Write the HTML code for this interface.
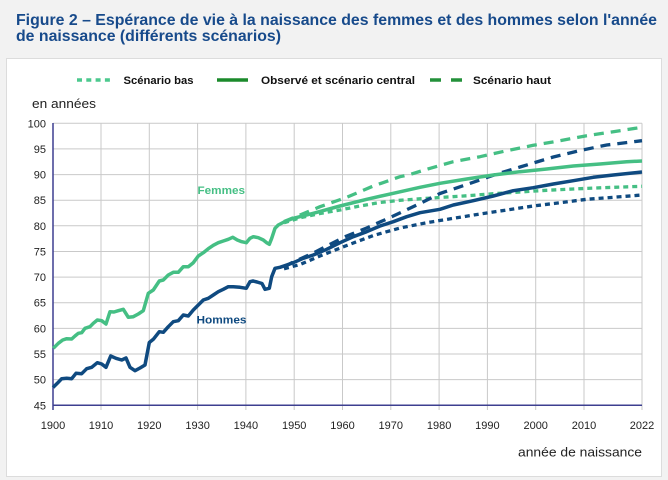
<!DOCTYPE html>
<html><head><meta charset="utf-8"><style>
html,body{margin:0;padding:0;background:#f2f2f2;width:668px;height:480px;overflow:hidden}
svg{display:block}
text{font-family:"Liberation Sans",sans-serif}
</style></head><body>
<svg width="668" height="480" viewBox="0 0 668 480" xmlns="http://www.w3.org/2000/svg">
<rect x="0" y="0" width="668" height="480" fill="#f2f2f2"/>
<text x="16" y="25" font-size="16" font-weight="bold" fill="#174a8b" textLength="641" lengthAdjust="spacingAndGlyphs">Figure 2 – Espérance de vie à la naissance des femmes et des hommes selon l'année</text>
<text x="16" y="41" font-size="16" font-weight="bold" fill="#174a8b" textLength="265" lengthAdjust="spacingAndGlyphs">de naissance (différents scénarios)</text>
<rect x="6.5" y="58.5" width="655" height="418" fill="#ffffff" stroke="#dcdcdc" stroke-width="1"/>
<!-- legend -->
<line x1="77" y1="80" x2="113" y2="80" stroke="#4cc98e" stroke-width="3.5" stroke-dasharray="5 4.3"/>
<text x="123.5" y="84" font-size="11" font-weight="bold" fill="#111" textLength="70" lengthAdjust="spacingAndGlyphs">Scénario bas</text>
<line x1="217" y1="80" x2="248" y2="80" stroke="#1b8a2b" stroke-width="3.5"/>
<text x="261" y="84" font-size="11" font-weight="bold" fill="#111" textLength="154" lengthAdjust="spacingAndGlyphs">Observé et scénario central</text>
<line x1="430" y1="80" x2="462" y2="80" stroke="#23913a" stroke-width="3.5" stroke-dasharray="11 10"/>
<text x="473" y="84" font-size="11" font-weight="bold" fill="#111" textLength="78" lengthAdjust="spacingAndGlyphs">Scénario haut</text>
<text x="32" y="108" font-size="13" fill="#222" textLength="64" lengthAdjust="spacingAndGlyphs">en années</text>
<!-- grid -->
<g stroke="#c9c9c9" stroke-width="1">
<line x1="53" y1="123.3" x2="642" y2="123.3"/>
<line x1="53" y1="148.9" x2="642" y2="148.9"/>
<line x1="53" y1="174.6" x2="642" y2="174.6"/>
<line x1="53" y1="200.2" x2="642" y2="200.2"/>
<line x1="53" y1="225.8" x2="642" y2="225.8"/>
<line x1="53" y1="251.5" x2="642" y2="251.5"/>
<line x1="53" y1="277.1" x2="642" y2="277.1"/>
<line x1="53" y1="302.7" x2="642" y2="302.7"/>
<line x1="53" y1="328.4" x2="642" y2="328.4"/>
<line x1="53" y1="354" x2="642" y2="354"/>
<line x1="53" y1="379.6" x2="642" y2="379.6"/>
<line x1="101" y1="123.3" x2="101" y2="410"/>
<line x1="149.3" y1="123.3" x2="149.3" y2="410"/>
<line x1="197.6" y1="123.3" x2="197.6" y2="410"/>
<line x1="245.9" y1="123.3" x2="245.9" y2="410"/>
<line x1="294.2" y1="123.3" x2="294.2" y2="410"/>
<line x1="342.5" y1="123.3" x2="342.5" y2="410"/>
<line x1="390.8" y1="123.3" x2="390.8" y2="410"/>
<line x1="439.1" y1="123.3" x2="439.1" y2="410"/>
<line x1="487.4" y1="123.3" x2="487.4" y2="410"/>
<line x1="535.7" y1="123.3" x2="535.7" y2="410"/>
<line x1="584" y1="123.3" x2="584" y2="410"/>
<line x1="642" y1="123.3" x2="642" y2="410"/>
</g>
<!-- axes -->
<line x1="53" y1="123" x2="53" y2="410" stroke="#3d3f90" stroke-width="1.5"/>
<line x1="53" y1="405.3" x2="642" y2="405.3" stroke="#3d3f90" stroke-width="1.5"/>
<!-- y labels -->
<g font-size="11" fill="#222" text-anchor="end">
<text x="46" y="127.3">100</text>
<text x="46" y="152.9">95</text>
<text x="46" y="178.6">90</text>
<text x="46" y="204.2">85</text>
<text x="46" y="229.8">80</text>
<text x="46" y="255.5">75</text>
<text x="46" y="281.1">70</text>
<text x="46" y="306.7">65</text>
<text x="46" y="332.4">60</text>
<text x="46" y="358">55</text>
<text x="46" y="383.6">50</text>
<text x="46" y="409.3">45</text>
</g>
<!-- x labels -->
<g font-size="11" fill="#222" text-anchor="middle">
<text x="53" y="429">1900</text>
<text x="101" y="429">1910</text>
<text x="149.3" y="429">1920</text>
<text x="197.6" y="429">1930</text>
<text x="245.9" y="429">1940</text>
<text x="294.2" y="429">1950</text>
<text x="342.5" y="429">1960</text>
<text x="390.8" y="429">1970</text>
<text x="439.1" y="429">1980</text>
<text x="487.4" y="429">1990</text>
<text x="535.7" y="429">2000</text>
<text x="584" y="429">2010</text>
<text x="642" y="429">2022</text>
</g>
<text x="642" y="456.5" font-size="13" fill="#222" text-anchor="end" textLength="124" lengthAdjust="spacingAndGlyphs">année de naissance</text>
<!-- series -->
<g fill="none" stroke-linejoin="round">
<!-- Femmes scenarios -->
<polyline stroke="#45bf84" stroke-width="3.3" stroke-dasharray="10 7" points="284,221.5 300,215 320,206.7 346.7,197.3 373.3,186 400,176.7 410,174.5 426.7,169.3 453.3,161.7 480,156.7 506.7,150.7 533.3,145.3 560,140.7 586.7,135.7 613.3,131.7 642,127.3"/>
<polyline stroke="#45bf84" stroke-width="3.3" stroke-dasharray="5 4" points="284,222.8 300,217.8 320,213.5 340,210 360,206 380,202.5 400,200.3 420,198.8 440,197.5 466.7,195.8 493.3,193.7 520,192 546.7,190.3 573.3,189 600,187.8 642,186.3"/>
<!-- Hommes scenarios -->
<polyline stroke="#0f4a80" stroke-width="3.3" stroke-dasharray="10 7" points="284,267 293.3,262 313.3,253 326.7,246 346.7,236 366.7,228 393.3,216 420,203.5 440,193.5 466.7,184.5 500,173 520,167 533.3,163 553.3,157 580,150.5 606.7,145 642,140.7"/>
<polyline stroke="#0f4a80" stroke-width="3.3" stroke-dasharray="5 4" points="284,268.8 300,264.5 320,256 346.7,245.5 373.3,235.5 400,228 426.7,222.7 453.3,218.3 480,214 506.7,210 533.3,206 560,202.7 586.7,199.3 613.3,197.3 642,195"/>
<!-- Femmes observed + central -->
<polyline stroke="#45bf84" stroke-width="3.5" points="53.3,348.3 58.3,343.3 62.7,340 66.7,338.7 71.7,339 75,336 78.3,333.3 81.7,332.7 85,328.3 90,326.7 93.3,323.3 97.3,320 101.7,320.7 106,324 110,311.7 114,312 118.3,310.7 123.3,309.3 128.3,317.3 133.3,316.7 138.3,314 143.3,310.7 148.3,293.3 153.3,290 159.3,281 163.3,280 168.3,275 173.3,272.3 178.3,272.3 183.3,266.7 188.3,266.7 193.3,262.7 198.3,256 203.3,252.7 208.3,248.7 213.3,245.3 218.3,242.7 223.3,241 228.3,239.3 232.7,237.3 237.3,240 241.7,241.7 246.3,242.7 250,238.3 253.3,236.7 258.3,237.7 263.3,240 266.7,242.7 269.3,244.3 271.7,238.3 275,228.3 278.3,225 284,222 293.3,218.3 313.3,213.3 340,206 366.7,199.3 393.3,193.3 420,187.3 440,183.3 466.7,179 493.3,175 520,171.7 546.7,169 573.3,166 600,164 626.7,161.7 642,161"/>
<!-- Hommes observed + central -->
<polyline stroke="#0f4a80" stroke-width="3.5" points="53,387.5 57.3,383.3 61.7,378.7 66.7,378.3 71.7,378.7 76,373.3 81.7,373.7 86.7,368.7 91.7,367.3 97.3,362.7 101.7,364 106,367.3 110.7,356 116,358.3 121.7,360 126,358 130,367.3 135,370.7 140,368 145,365 149.3,342.5 153.3,339.3 159.3,331.7 163.3,332.3 168.3,326.7 173.3,321.7 178.3,320.7 183.3,315 188.3,316 193.3,310 198.3,305 203.3,300 208.3,298.3 213.3,295 218.3,291.7 223.3,289.3 228.3,286.7 233.3,286.7 240,287.3 246.3,288.3 250,281.7 253,281 257,282 262,283.5 265,289.3 269.3,288.3 271.7,276.7 275,268.3 280,267.3 286.7,265 293.3,262.7 303.3,258.3 313.3,255 326.7,249.3 340,242.7 353.3,236.7 366.7,231.7 380,226 393.3,221.7 406.7,216.7 420,212.7 440,209.3 453.3,205 473.3,200.7 493.3,196 513.3,190.7 533.3,187.7 553.3,184 573.3,180.7 593.3,177.3 613.3,175 642,172"/>
</g>
<text x="197.5" y="194" font-size="11" font-weight="bold" fill="#45bf84" textLength="47.5" lengthAdjust="spacingAndGlyphs">Femmes</text>
<text x="196.5" y="323.5" font-size="11" font-weight="bold" fill="#0f4a80" textLength="50" lengthAdjust="spacingAndGlyphs">Hommes</text>
</svg>
</body></html>
